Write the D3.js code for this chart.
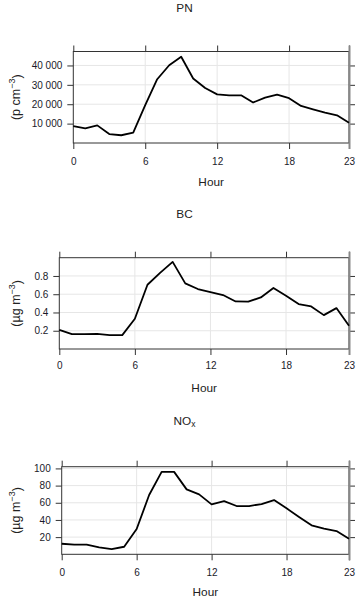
<!DOCTYPE html>
<html><head><meta charset="utf-8">
<script src="https://cdn.jsdelivr.net/npm/d3@7"></script>
<style>body{margin:0;background:#fff}svg{display:block}text{font-family:"Liberation Sans",Arial,sans-serif}</style>
</head><body>
<script>
const hours = d3.range(0, 24);
const pnValues = [8700,7600,9100,4600,4000,5300,19500,32900,40100,44500,33300,28400,25100,24600,24600,20900,23400,24900,23100,19100,17400,15700,14300,10500];
const bcValues = [0.21,0.163,0.163,0.165,0.152,0.152,0.331,0.704,0.833,0.954,0.719,0.657,0.624,0.591,0.521,0.518,0.565,0.668,0.583,0.492,0.466,0.371,0.448,0.254];
const noxValues = [12.3,11.2,11.2,8.1,6.1,8.8,29.4,69,96,96,75.6,69.8,58.1,62,56.2,56.2,58.5,63.1,53.5,43.4,33.7,29.8,27.1,18.1];
const xTicks = [0, 6, 12, 18, 23];
const pnTicks = [10000, 20000, 30000, 40000];
const bcTicks = [0.2, 0.4, 0.6, 0.8];
const noxTicks = [20, 40, 60, 80, 100];

const panels = [
  {title:[["PN",null]], unit:"p cm", values:pnValues, ticks:pnTicks, domain:[0,47200],
   fmt:d=>d3.format(",")(d).replace(/,/g," "), left:73.3, right:349, top:51.5, bottom:143,
   titleY:7.5, xlabY:161, hourY:182},
  {title:[["BC",null]], unit:"\u00b5g m", values:bcValues, ticks:bcTicks, domain:[0,1.0],
   fmt:d3.format(".1f"), left:59.3, right:349, top:257.7, bottom:349,
   titleY:214, xlabY:365.7, hourY:387.7},
  {title:[["NO",null],["x","sub"]], unit:"\u00b5g m", values:noxValues, ticks:noxTicks, domain:[0,102],
   fmt:d3.format("d"), left:61.7, right:349, top:466.7, bottom:554.3,
   titleY:420.7, xlabY:572.7, hourY:592}
];

const svg = d3.select("body").append("svg").attr("width",359).attr("height",600);

panels.forEach(p => {
  const g = svg.append("g");
  const x = d3.scaleLinear().domain([0,23]).range([p.left,p.right]);
  const y = d3.scaleLinear().domain(p.domain).range([p.bottom,p.top]);
  const cx = (p.left+p.right)/2, cy = (p.top+p.bottom)/2;

  // title
  const t = g.append("text").attr("x",184.5).attr("y",p.titleY).attr("dy","0.35em")
    .attr("text-anchor","middle").attr("font-size",11.8).attr("fill","#222");
  p.title.forEach(([s,k]) => {
    const ts = t.append("tspan").text(s);
    if (k==="sub") ts.attr("font-size",8.5).attr("dy","0.3em");
  });

  // grid
  g.append("g").selectAll("line").data(xTicks.filter(d=>d>0&&d<23)).join("line")
    .attr("x1",d=>x(d)).attr("x2",d=>x(d)).attr("y1",p.top).attr("y2",p.bottom)
    .attr("stroke","#e6e6e6").attr("stroke-width",1);
  g.append("g").selectAll("line").data(p.ticks).join("line")
    .attr("x1",p.left).attr("x2",p.right).attr("y1",d=>y(d)).attr("y2",d=>y(d))
    .attr("stroke","#e6e6e6").attr("stroke-width",1);

  // axes
  const axB = d3.axisBottom(x).tickValues(xTicks).tickSize(6).tickPadding(4);
  const axT = d3.axisTop(x).tickValues(xTicks).tickSize(6).tickFormat("");
  const axL = d3.axisLeft(y).tickValues(p.ticks).tickSize(6).tickPadding(5).tickFormat(p.fmt);
  const axR = d3.axisRight(y).tickValues(p.ticks).tickSize(6).tickFormat("");
  const gb = g.append("g").attr("transform",`translate(0,${p.bottom})`).call(axB);
  gb.selectAll("text").attr("y", p.xlabY - p.bottom).attr("dy","0.35em");
  g.append("g").attr("transform",`translate(0,${p.top})`).call(axT);
  g.append("g").attr("transform",`translate(${p.left},0)`).call(axL);
  g.append("g").attr("transform",`translate(${p.right},0)`).call(axR);
  g.selectAll(".domain").remove();
  g.selectAll(".tick line").attr("stroke","#333");
  g.selectAll(".tick text").attr("font-size",10).attr("fill","#1a1a2a")
    .attr("font-family","'Liberation Sans',Arial,sans-serif");

  // frame
  g.append("rect").attr("x",p.left).attr("y",p.top).attr("width",p.right-p.left)
    .attr("height",p.bottom-p.top).attr("fill","none").attr("stroke","#333").attr("stroke-width",1);
  g.append("line").attr("x1",p.right+0.5).attr("x2",p.right+0.5).attr("y1",p.top-6).attr("y2",p.bottom+6)
    .attr("stroke","#888").attr("stroke-width",2);

  // line
  const line = d3.line().x((d,i)=>x(hours[i])).y(d=>y(d));
  g.append("path").datum(p.values).attr("d",line).attr("fill","none")
    .attr("stroke","#000").attr("stroke-width",1.8).attr("stroke-linejoin","round");

  // x label
  g.append("text").attr("x",cx).attr("y",p.hourY).attr("dy","0.35em").attr("text-anchor","middle")
    .attr("font-size",11.8).attr("fill","#222").text("Hour");

  // y label
  const yl = g.append("text").attr("transform",`translate(16,${cy}) rotate(-90)`)
    .attr("text-anchor","middle").attr("dy","0.35em").attr("font-size",12.5).attr("fill","#222");
  yl.append("tspan").text("(" + p.unit);
  yl.append("tspan").attr("font-size",9).attr("dy","-0.6em").text("\u22123");
  yl.append("tspan").attr("dy","0.45em").text(")");
});
</script>
</body></html>
